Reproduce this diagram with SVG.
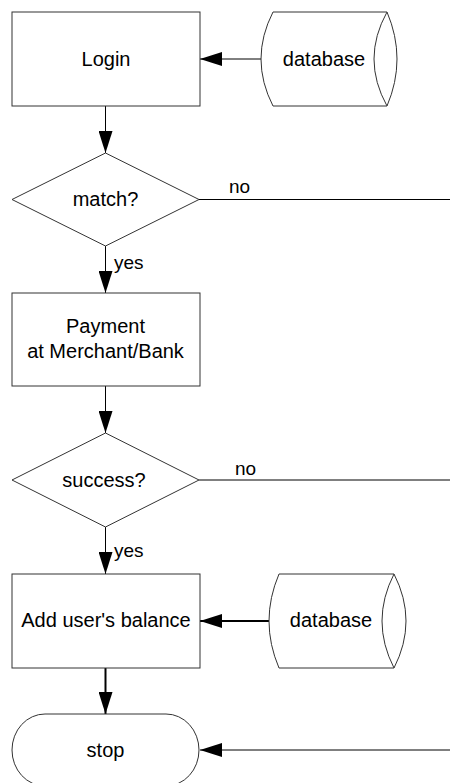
<svg xmlns="http://www.w3.org/2000/svg" width="450" height="783" viewBox="0 0 450 783">
<style>
.shape{fill:#fff;stroke:#333;stroke-width:1}
.edge{fill:none;stroke:#000;stroke-width:1}
.thick{stroke-width:2}
.t{font-family:"Liberation Sans",Arial,sans-serif;font-size:20px;fill:#000;text-anchor:middle}
.l{font-family:"Liberation Sans",Arial,sans-serif;font-size:19px;fill:#000}
</style>
<defs>
<marker id="ah" markerUnits="userSpaceOnUse" markerWidth="22" markerHeight="14" refX="22" refY="7" orient="auto" viewBox="0 0 22 14">
<path d="M0,0 L22,7 L0,14 z" fill="#000"/>
</marker>
</defs>
<rect width="450" height="783" fill="#fff"/>
<g id="connectors">
<line class="edge" x1="261" y1="59" x2="200" y2="59" marker-end="url(#ah)"/>
<line class="edge" x1="105.5" y1="106" x2="105.5" y2="153" marker-end="url(#ah)"/>
<line class="edge" x1="199" y1="199.5" x2="450" y2="199.5"/>
<line class="edge" x1="105.5" y1="246" x2="105.5" y2="293" marker-end="url(#ah)"/>
<line class="edge" x1="105.5" y1="386" x2="105.5" y2="433" marker-end="url(#ah)"/>
<line class="edge" x1="199" y1="480" x2="450" y2="480"/>
<line class="edge" x1="105.5" y1="527" x2="105.5" y2="574" marker-end="url(#ah)"/>
<line class="edge thick" x1="269" y1="621" x2="200" y2="621" marker-end="url(#ah)"/>
<line class="edge thick" x1="105.5" y1="668" x2="105.5" y2="714" marker-end="url(#ah)"/>
<line class="edge" x1="450" y1="750" x2="200" y2="750" marker-end="url(#ah)"/>
<text class="l" x="229" y="193">no</text>
<text class="l" x="114" y="269">yes</text>
<text class="l" x="235" y="475">no</text>
<text class="l" x="114" y="557">yes</text>
</g>
<g id="login">
<rect class="shape" x="12" y="12" width="188" height="94"/>
<text class="t" x="106" y="66">Login</text>
</g>
<g id="database1">
<path class="shape" d="M273,12 L387,12 Q407,59 387,106 L273,106 Q249,59 273,12 Z"/>
<path class="shape" d="M387,12 Q361,59 387,106"/>
<text class="t" x="324" y="66">database</text>
</g>
<g id="match">
<polygon class="shape" points="105.5,153 199,199.5 105.5,246 12,199.5"/>
<text class="t" x="105.5" y="206">match?</text>
</g>
<g id="payment">
<rect class="shape" x="12" y="293" width="188" height="93"/>
<text class="t" x="105.5" y="333">Payment</text>
<text class="t" x="105.5" y="358">at Merchant/Bank</text>
</g>
<g id="success">
<polygon class="shape" points="105.5,433 199,480 105.5,527 12,480"/>
<text class="t" x="104" y="487">success?</text>
</g>
<g id="addbalance">
<rect class="shape" x="12" y="574" width="188" height="94"/>
<text class="t" x="106" y="627">Add user's balance</text>
</g>
<g id="database2">
<path class="shape" d="M279,574 L394,574 Q418,621 394,668 L279,668 Q259,621 279,574 Z"/>
<path class="shape" d="M394,574 Q370,621 394,668"/>
<text class="t" x="331" y="627">database</text>
</g>
<g id="stop">
<path class="shape" d="M45,714 L166,714 A33,36 0 0 1 166,786 L45,786 A33,36 0 0 1 45,714 Z"/>
<text class="t" x="105.5" y="757">stop</text>
</g>
</svg>
